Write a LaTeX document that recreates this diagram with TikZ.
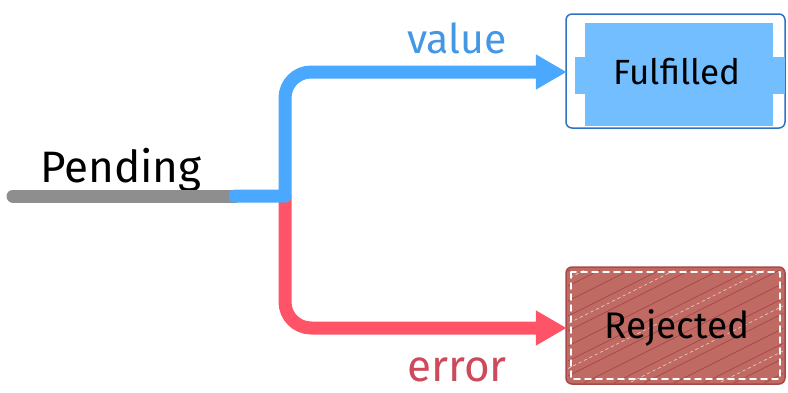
\documentclass[tikz,border=0pt]{standalone}
\usepackage{fontspec}
\setmainfont{Fira Sans}
\usetikzlibrary{arrows.meta}
\definecolor{pendgray}{HTML}{8E8E8E}
\definecolor{okblue}{HTML}{4AA8FF}
\definecolor{okline}{HTML}{2F72C4}
\definecolor{okfill}{HTML}{72BEFF}
\definecolor{errred}{HTML}{FF5468}
\definecolor{errtext}{HTML}{CC4A5C}
\definecolor{errfill}{HTML}{C06A64}
\definecolor{errline}{HTML}{A84848}
\begin{document}
\begin{tikzpicture}[x=1pt,y=-1pt,line cap=round,line join=round]
    \tikzstyle{flow}=[line width=13pt];
    \tikzstyle{tip}=[-{Triangle[length=31pt,width=33pt]}];
    \tikzstyle{state}=[draw=none,minimum width=220pt,anchor=center,inner sep=0pt];
    \useasboundingbox (0,0) rectangle (788,392);
    % boxes
    \filldraw[okline,fill=white,line width=1.5pt,rounded corners=6pt] (566,14) rectangle (785,128);
    \fill[okfill] (585,23) rectangle (773,126);
    \fill[okfill] (575,57) rectangle (785,94);
    \filldraw[errline,fill=errfill,line width=1.5pt,rounded corners=6pt] (566,267) rectangle (785,384);
    \begin{scope}
    \clip (568,269) rectangle (783,382);
    \foreach \i in {0,30,...,480}
        \draw[errline,line width=0.8pt] (330+\i,390) -- (330+\i+240,270);
    \foreach \i in {15,105,...,480}
        \draw[white!75!errfill,line width=0.6pt,dash pattern=on 3pt off 3pt] (330+\i,390) -- (330+\i+240,270);
    \end{scope}
    \draw[white,line width=1.5pt,dash pattern=on 6pt off 5pt] (571,272) rectangle (780,379);
    \node[state] (ful) at (677,72) {\fontsize{35}{38}\selectfont Fulfilled};
    \node[state] (rej) at (677,328) {\fontsize{37}{40}\selectfont Rejected};
    % pending
    \coordinate (start) at (13,196);
    \coordinate (split) at (235,196);
    \coordinate (fork) at (285,196);
    \node[anchor=base west,inner sep=0pt] (pend) at (40,182) {\fontsize{44}{48}\selectfont Pending};
    \draw[flow,pendgray] (start) to (split);
    \draw[flow,errred,tip] (fork) [rounded corners=26pt] -- (fork |- rej.west) -- (rej.west);
    \draw[flow,okblue,tip] (split) -- (fork) [rounded corners=26pt] -- (fork |- ful.west) -- (ful.west);
    \node[text=okblue!90!black] (val) at (457,38) {\fontsize{41}{44}\selectfont value};
    \node[text=errtext] (err) at (457,370) {\fontsize{44}{46}\selectfont error};
\end{tikzpicture}
\end{document}
